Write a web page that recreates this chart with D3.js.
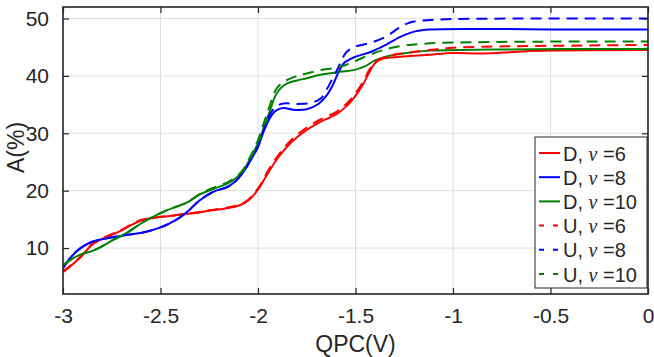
<!DOCTYPE html>
<html>
<head>
<meta charset="utf-8">
<script src="https://cdn.jsdelivr.net/npm/d3@7"></script>
<style>
  html, body { margin: 0; padding: 0; background: #ffffff; }
  svg { display: block; }
  text { font-family: "Liberation Sans", Arial, Helvetica, sans-serif; fill: #262626; }
</style>
</head>
<body>
<svg id="chart" width="654" height="357"></svg>
<script>
// ---------------- data ----------------
const xTickValues = [-3, -2.5, -2, -1.5, -1, -0.5, 0];
const xTickLabels = ["-3", "-2.5", "-2", "-1.5", "-1", "-0.5", "0"];
const yTickValues = [10, 20, 30, 40, 50];
const yTickLabels = ["10", "20", "30", "40", "50"];
const xLabel = "QPC(V)";
const yLabel = "A(%)";

const seriesNames = ["D6", "D8", "D10", "U6", "U8", "U10"];
const seriesPrefix = ["D", "D", "D", "U", "U", "U"];
const seriesNu = ["6", "8", "10", "6", "8", "10"];
const seriesColors = ["#ff0000", "#0000ff", "#008000", "#ff0000", "#0000ff", "#008000"];
const seriesDashed = [false, false, false, true, true, true];

// [QPC (V), A (%)]
const dataD6 = [[-3.00,5.8],[-2.96,6.9],[-2.91,8.4],[-2.85,10.6],[-2.78,11.9],[-2.71,12.9],[-2.65,14.0],[-2.60,14.8],[-2.53,15.3],[-2.45,15.6],[-2.38,15.9],[-2.30,16.2],[-2.25,16.5],[-2.15,17.0],[-2.09,17.5],[-2.05,18.3],[-2.02,19.3],[-1.99,20.7],[-1.95,23.0],[-1.90,25.6],[-1.85,27.7],[-1.80,29.3],[-1.75,30.6],[-1.68,32.0],[-1.60,33.3],[-1.55,34.6],[-1.51,36.1],[-1.46,38.6],[-1.43,40.6],[-1.40,42.2],[-1.37,42.9],[-1.32,43.2],[-1.24,43.4],[-1.12,43.7],[-1.00,44.0],[-0.85,43.9],[-0.67,44.2],[-0.50,44.4],[0,44.5]];
const dataD8 = [[-3.00,6.5],[-2.96,8.4],[-2.91,10.0],[-2.85,11.1],[-2.76,11.8],[-2.67,12.3],[-2.59,12.7],[-2.50,13.6],[-2.42,14.9],[-2.36,16.4],[-2.30,18.3],[-2.23,19.8],[-2.16,20.6],[-2.12,21.5],[-2.08,23.0],[-2.04,25.2],[-2.00,27.6],[-1.97,30.4],[-1.94,32.6],[-1.91,33.9],[-1.87,34.4],[-1.82,34.1],[-1.75,34.2],[-1.69,35.1],[-1.65,36.5],[-1.615,38.5],[-1.585,40.8],[-1.56,42.2],[-1.51,43.2],[-1.42,44.2],[-1.35,45.3],[-1.27,46.8],[-1.19,47.8],[-1.12,48.1],[-0.5,48.1],[0,48.1]];
const dataD10 = [[-3.00,7.0],[-2.95,8.2],[-2.90,9.0],[-2.85,9.5],[-2.80,10.3],[-2.76,11.1],[-2.67,12.7],[-2.59,14.5],[-2.50,16.1],[-2.42,17.2],[-2.36,18.0],[-2.30,19.3],[-2.23,20.3],[-2.16,21.2],[-2.12,22.0],[-2.08,23.3],[-2.04,25.6],[-2.00,28.3],[-1.97,31.0],[-1.94,33.8],[-1.91,36.6],[-1.88,38.0],[-1.85,38.7],[-1.80,39.2],[-1.75,39.6],[-1.68,40.2],[-1.58,40.7],[-1.51,41.0],[-1.45,41.7],[-1.40,42.7],[-1.34,43.4],[-1.24,44.0],[-1.12,44.4],[-0.8,44.6],[0,44.7]];
const dataU6 = [[-3.00,5.9],[-2.96,7.0],[-2.91,8.5],[-2.85,10.7],[-2.78,12.0],[-2.71,13.0],[-2.65,14.1],[-2.60,14.9],[-2.53,15.3],[-2.45,15.6],[-2.38,15.9],[-2.30,16.3],[-2.25,16.6],[-2.15,17.1],[-2.09,17.6],[-2.05,18.4],[-2.02,19.5],[-1.99,20.9],[-1.95,23.4],[-1.90,26.0],[-1.85,28.1],[-1.80,29.7],[-1.75,31.0],[-1.68,32.4],[-1.60,33.7],[-1.55,35.0],[-1.51,36.5],[-1.46,39.0],[-1.43,41.0],[-1.40,42.4],[-1.35,43.3],[-1.24,44.0],[-1.12,44.5],[-1.00,44.9],[-0.80,45.1],[-0.60,45.2],[-0.30,45.3],[0,45.4]];
const dataU8 = [[-3.00,6.5],[-2.96,8.4],[-2.91,10.0],[-2.85,11.1],[-2.76,11.8],[-2.67,12.3],[-2.59,12.7],[-2.50,13.6],[-2.42,14.9],[-2.36,16.4],[-2.30,18.3],[-2.23,19.8],[-2.16,20.6],[-2.12,21.5],[-2.08,23.0],[-2.04,25.2],[-2.00,27.7],[-1.97,30.7],[-1.94,33.2],[-1.91,34.6],[-1.87,35.2],[-1.80,35.1],[-1.73,35.3],[-1.68,36.0],[-1.645,37.8],[-1.62,39.4],[-1.595,41.0],[-1.57,42.8],[-1.545,44.2],[-1.50,45.1],[-1.42,45.8],[-1.34,46.9],[-1.28,48.3],[-1.22,49.3],[-1.13,49.7],[-1.0,49.9],[0,50.0]];
const dataU10 = [[-3.00,7.0],[-2.95,8.2],[-2.90,9.0],[-2.85,9.5],[-2.80,10.3],[-2.76,11.1],[-2.67,12.7],[-2.59,14.5],[-2.50,16.1],[-2.42,17.2],[-2.36,18.0],[-2.30,19.4],[-2.23,20.5],[-2.16,21.4],[-2.12,22.2],[-2.08,23.5],[-2.04,25.9],[-2.00,28.8],[-1.97,31.8],[-1.94,34.8],[-1.91,37.5],[-1.88,38.7],[-1.85,39.3],[-1.80,40.0],[-1.75,40.4],[-1.68,41.0],[-1.60,41.4],[-1.55,41.9],[-1.50,42.6],[-1.41,43.9],[-1.30,45.0],[-1.15,45.6],[-0.8,45.9],[0,46.0]];
const seriesData = [dataD6, dataD8, dataD10, dataU6, dataU8, dataU10];

// ---------------- layout ----------------
const svg = d3.select("#chart");
const plot = { left: 63, right: 648, top: 7, bottom: 294 };
const x = d3.scaleLinear().domain([-3, 0]).range([plot.left, plot.right]);
const y = d3.scaleLinear().domain([2, 52]).range([plot.bottom, plot.top]);
const axisColor = "#262626";

// grid
const grid = svg.append("g");
grid.selectAll("line.gx").data(xTickValues).enter().append("line")
  .attr("x1", d => x(d)).attr("x2", d => x(d))
  .attr("y1", plot.top).attr("y2", plot.bottom)
  .attr("stroke", "#dedede").attr("stroke-width", 1);
grid.selectAll("line.gy").data(yTickValues).enter().append("line")
  .attr("x1", plot.left).attr("x2", plot.right)
  .attr("y1", d => y(d)).attr("y2", d => y(d))
  .attr("stroke", "#dedede").attr("stroke-width", 1);

// curves
svg.append("clipPath").attr("id", "clip").append("rect")
  .attr("x", plot.left).attr("y", plot.top)
  .attr("width", plot.right - plot.left).attr("height", plot.bottom - plot.top);
const line = d3.line().x(d => x(d[0])).y(d => y(d[1])).curve(d3.curveCatmullRom.alpha(0.5));
const curves = svg.append("g").attr("clip-path", "url(#clip)");
seriesData.forEach((data, i) => {
  curves.append("path")
    .attr("d", line(data))
    .attr("fill", "none")
    .attr("stroke", seriesColors[i])
    .attr("stroke-width", 2)
    .attr("stroke-linejoin", "round")
    .attr("stroke-dasharray", seriesDashed[i] ? "11,7" : null);
});

// axes (MATLAB style, inward ticks, box)
const tickLen = 6;
const xAxisB = d3.axisBottom(x).tickValues(xTickValues).tickSizeInner(-tickLen).tickSizeOuter(0)
  .tickPadding(14).tickFormat((d, i) => xTickLabels[i]);
const xAxisT = d3.axisTop(x).tickValues(xTickValues).tickSizeInner(-tickLen).tickSizeOuter(0).tickFormat("");
const yAxisL = d3.axisLeft(y).tickValues(yTickValues).tickSizeInner(-tickLen).tickSizeOuter(0)
  .tickPadding(14).tickFormat((d, i) => yTickLabels[i]);
const yAxisR = d3.axisRight(y).tickValues(yTickValues).tickSizeInner(-tickLen).tickSizeOuter(0).tickFormat("");

function styleAxis(g) {
  g.select(".domain").remove();
  g.selectAll(".tick line").attr("stroke", axisColor).attr("stroke-width", 1.2);
  g.selectAll(".tick text").attr("fill", axisColor)
    .style("font-family", "'Liberation Sans', Arial, sans-serif").style("font-size", "21px");
}
svg.append("g").attr("transform", `translate(0,${plot.bottom})`).call(xAxisB).call(styleAxis);
svg.append("g").attr("transform", `translate(0,${plot.top})`).call(xAxisT).call(styleAxis);
svg.append("g").attr("transform", `translate(${plot.left},0)`).call(yAxisL).call(styleAxis);
svg.append("g").attr("transform", `translate(${plot.right},0)`).call(yAxisR).call(styleAxis);

svg.append("rect")
  .attr("x", plot.left).attr("y", plot.top)
  .attr("width", plot.right - plot.left).attr("height", plot.bottom - plot.top)
  .attr("fill", "none").attr("stroke", axisColor).attr("stroke-width", 1.6);

// axis labels
svg.append("text")
  .attr("x", (plot.left + plot.right) / 2).attr("y", 352)
  .attr("text-anchor", "middle").style("font-size", "23px")
  .text(xLabel);
svg.append("text")
  .attr("transform", `translate(24,${(plot.top + plot.bottom) / 2 - 3}) rotate(-90)`)
  .attr("text-anchor", "middle").style("font-size", "23px")
  .text(yLabel);

// legend
const leg = { x: 535, y: 137, w: 112, h: 151 };
const lg = svg.append("g");
lg.append("rect").attr("x", leg.x).attr("y", leg.y).attr("width", leg.w).attr("height", leg.h)
  .attr("fill", "#ffffff").attr("stroke", axisColor).attr("stroke-width", 1);
const rowH = 24.2;
seriesNames.forEach((name, i) => {
  const cy = leg.y + 16 + i * rowH;
  lg.append("line")
    .attr("x1", leg.x + 4).attr("x2", leg.x + 25)
    .attr("y1", cy).attr("y2", cy)
    .attr("stroke", seriesColors[i]).attr("stroke-width", 2)
    .attr("stroke-dasharray", seriesDashed[i] ? "5,9" : null);
  const t = lg.append("text").attr("x", leg.x + 28).attr("y", cy + 7.5)
    .style("font-size", "20px").attr("fill", "#000");
  t.append("tspan").text(seriesPrefix[i] + ", ");
  t.append("tspan").style("font-family", "'Liberation Serif', 'Times New Roman', serif")
    .style("font-style", "italic").text("\u03BD");
  t.append("tspan").text(" =" + seriesNu[i]);
});
</script>
</body>
</html>
